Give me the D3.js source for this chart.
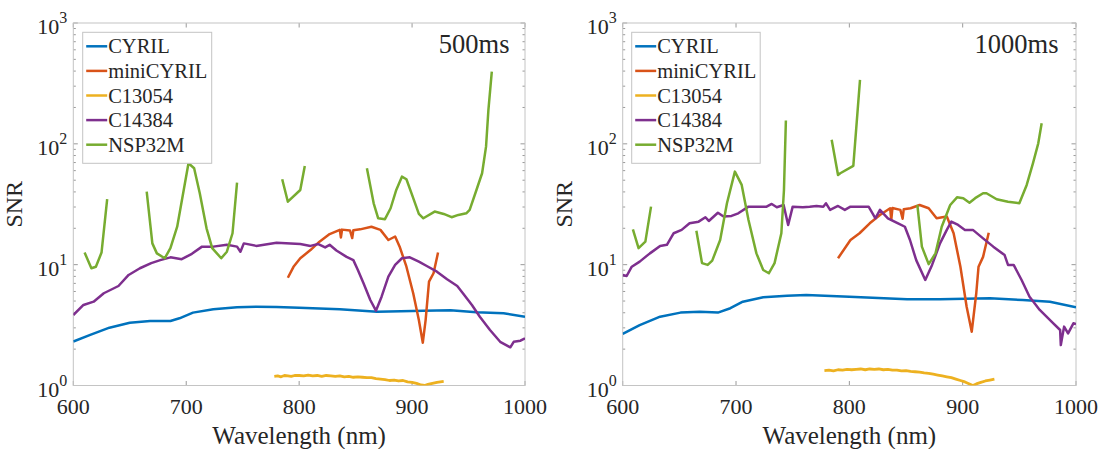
<!DOCTYPE html>
<html>
<head>
<meta charset="utf-8">
<script src="https://cdn.jsdelivr.net/npm/d3@7"></script>
<style>
  svg text { font-family: "Liberation Serif", "Times New Roman", Tinos !important; }
</style>
</head>
<body style="margin:0">
<svg id="chart" width="1102" height="449"></svg>
<script>
// ---------------- data ----------------
const seriesNames = ["CYRIL", "miniCYRIL", "C13054", "C14384", "NSP32M"];
const seriesColors = ["#0072BD", "#D95319", "#EDB120", "#7E2F8E", "#77AC30"];
const panelTitles = ["500ms", "1000ms"];
const xTicks = [600, 700, 800, 900, 1000];
const yTicks = [1, 10, 100, 1000];
const yTickExponents = ["0", "1", "2", "3"];
const xLabel = "Wavelength (nm)";
const yLabel = "SNR";

// 500 ms
const cyril500 = [[600,2.31],[615,2.62],[632,3.01],[650,3.31],[668,3.42],[686,3.42],[694,3.6],[706,4.01],[724,4.27],[745,4.44],[762,4.49],[780,4.47],[800,4.4],[836,4.27],[869,4.08],[890,4.12],[910,4.16],[934,4.2],[957,4.04],[981,3.96],[1000,3.71]];
const mini500 = [[790,7.8],[795,9.6],[801,11.3],[810,13.2],[818,15.5],[827,17.9],[836,19.4],[837,16.8],[838,19.5],[845,19.2],[847,16.6],[848,19.3],[854,19.6],[864,20.6],[872,19.4],[879,16],[885,17.1],[889,14.1],[895,9.62],[901,5.8],[906,3.48],[909.5,2.26],[912,3.48],[915,7.23],[919,8.49],[923,12.6]];
const c13054_500 = [[778,1.19],[781,1.2],[784,1.18],[787,1.21],[790,1.2],[793,1.19],[796,1.21],[800,1.21],[804,1.2],[808,1.22],[812,1.2],[816,1.21],[820,1.19],[824,1.21],[828,1.2],[832,1.19],[836,1.2],[840,1.18],[844,1.19],[848,1.17],[852,1.18],[856,1.17],[860,1.16],[864,1.16],[868,1.14],[872,1.13],[876,1.12],[880,1.1],[884,1.11],[888,1.09],[892,1.1],[896,1.07],[900,1.06],[904,1.04],[908,1.01],[911,1.0],[914,1.02],[918,1.04],[922,1.06],[925,1.07],[928,1.08]];
const c14384_500 = [[600,3.83],[609,4.64],[618,4.94],[627,5.8],[640,6.66],[649,8.22],[659,9.34],[669,10.3],[677,10.9],[686,11.5],[696,11.1],[705,12.3],[714,14.1],[724,14.1],[736,14.6],[745,14.1],[748,12.8],[751,15.0],[762,14.3],[780,15.2],[801,14.8],[810,14.3],[817,14.8],[823,13.9],[827,14.6],[833,13.1],[842,11.6],[848,10.9],[852,9.04],[857,7.02],[863,5.1],[868,4.16],[873,5.43],[879,7.96],[885,9.95],[891,11.3],[898,11.5],[906,10.6],[913,9.75],[922,8.75],[931,7.57],[940,6.66],[945,5.8],[953,4.64],[960,3.71],[969,2.88],[978,2.3],[987,2.07],[990,2.3],[996,2.35],[1000,2.46]];
const nsp500 = [[610,12.6],[616,9.34],[620,9.62],[625,12.6],[630,34.8],null,
  [665,40.2],[670,15],[674,12.4],[681,11.3],[686,13.7],[692,20.6],[702,69],[707,62.8],[712,39],[718,20],[723,13.7],[731,11.3],[736,12.8],[741,18.2],[745,47.7],null,
  [785,50.9],[790,33.2],[801,41.5],[805,65.6],null,
  [860,62.8],[866,32.2],[870,24.2],[876,23.8],[881,29.3],[886,41.5],[891,53.5],[895,50.9],[900,37.8],[906,26.3],[910,24.2],[920,27.5],[928,26.3],[935,24.7],[941,25.8],[948,26.6],[951,28.4],[957,41.5],[962,57.1],[965.5,94.8],[967.6,191],[970.6,396]];

// 1000 ms
const cyril1000 = [[600,2.67],[615,3.16],[633,3.71],[651,4.01],[668,4.08],[684,4.01],[695,4.36],[706,4.94],[724,5.37],[745,5.54],[762,5.61],[800,5.43],[851,5.17],[880,5.17],[924,5.27],[953,5.1],[977,4.94],[1000,4.45]];
const mini1000 = [[790,11.3],[801,16],[809,18.2],[818,22],[827,25.8],[836,29.3],[837,23.5],[838,29.4],[845,28.4],[847,24],[848,28.8],[854,29.3],[862,31.2],[870,29.3],[877,24.2],[886,25],[892,18.2],[898,9.62],[903.5,4.49],[908,2.79],[912,5.8],[914,9.62],[918,11.6],[923,18.4]];
const c13054_1000 = [[778,1.33],[782,1.34],[786,1.32],[790,1.35],[794,1.34],[798,1.36],[802,1.35],[806,1.36],[810,1.37],[814,1.35],[818,1.37],[822,1.36],[826,1.37],[830,1.35],[834,1.36],[838,1.34],[842,1.34],[846,1.32],[850,1.33],[854,1.31],[858,1.3],[862,1.29],[866,1.27],[870,1.26],[874,1.24],[878,1.22],[882,1.2],[886,1.18],[890,1.16],[894,1.13],[898,1.1],[902,1.07],[906,1.03],[909,1.0],[912,1.03],[916,1.06],[920,1.09],[924,1.11],[928,1.13]];
const c14384_1000 = [[600,8.22],[603.5,8.06],[608,9.62],[615,10.6],[624,12.4],[633,14.3],[639,14.6],[645,18.2],[652,19.4],[659,22],[667,22.7],[673,24.7],[676,23],[684,26.9],[689,25],[696,25.3],[702,26.6],[711,30.2],[727,30.2],[731.5,31.8],[736,29.9],[742,31.2],[746,21.3],[750,30.2],[759,29.9],[765,30.2],[771,30.6],[777,30.2],[779.4,32.2],[783,28.4],[790,30.6],[796,28.4],[801,30.2],[817,30.2],[823,24.2],[827,28.4],[834,24.2],[843,22],[849,20.6],[853.5,16],[859,10.9],[867,7.47],[873,9.95],[880,15],[886,19.4],[890,22.7],[896,21.3],[902,19.4],[909,19.4],[918,16.5],[927,14.1],[937,12],[940,9.95],[945,9.95],[952,7.47],[959,5.43],[968,4.22],[980,3.27],[986,2.88],[986.6,2.16],[989.5,3.07],[993,2.7],[997.7,3.27],[1000,3.23]];
const nsp1000 = [[609,19.6],[614,13.7],[620,15.5],[625,30.2],null,
  [665,19.1],[670,10.3],[675,9.95],[679,10.8],[686,16],[692,32.2],[699,58.9],[705,45.7],[711,23.4],[718,12.4],[724,9.04],[729,8.49],[734,10.3],[740,18.2],[742.3,41.5],[744,156],null,
  [784.4,108],[790,55.3],[792,57.1],[803.5,65.6],[809.4,338],null,
  [860,31.2],[864,14.1],[870,10.1],[876,12.4],[881.5,20.6],[889,31.2],[895,36.1],[900.5,35.5],[906,32.6],[911,35.5],[918,39],[921,39],[930,34.8],[940,33.2],[950,32.2],[956.5,45.7],[962,69],[966.7,101],[969.7,148]];

const panelData = [
  [cyril500, mini500, c13054_500, c14384_500, nsp500],
  [cyril1000, mini1000, c13054_1000, c14384_1000, nsp1000]
];

// ---------------- layout ----------------
const FONT = '"Liberation Serif", "Times New Roman", Tinos';
const svg = d3.select("#chart").style("font-family", FONT);
svg.append("rect").attr("width", 1102).attr("height", 449).attr("fill", "#fff");

const panels = [
  { left: 73.3, right: 525, legendX: 82.7, legendW: 129, titleX: 509.5, ylabX: 22 },
  { left: 622.7, right: 1076, legendX: 631.7, legendW: 128.5, titleX: 1058.5, ylabX: 572 }
];
const plotTop = 23, plotBottom = 385.5;
const axisColor = "#c4c4c4";
const tickColor = "#9a9a9a";
const textColor = "#262626";

function addText() {
  return svg.append("text").attr("font-size", 22).style("font-family", FONT).attr("fill", textColor);
}

panels.forEach((p, pi) => {
  const x = d3.scaleLinear().domain([600, 1000]).range([p.left, p.right]);
  const y = d3.scaleLog().domain([1, 1000]).range([plotBottom, plotTop]);
  const g = svg.append("g");

  const clipId = "clip" + pi;
  svg.append("clipPath").attr("id", clipId).append("rect")
    .attr("x", p.left).attr("y", plotTop).attr("width", p.right - p.left).attr("height", plotBottom - plotTop);

  // ticks
  const tl = 4.5, mtl = 2.5;
  const tg = g.append("g").attr("stroke", tickColor).attr("stroke-width", 1);
  xTicks.forEach(t => {
    tg.append("line").attr("x1", x(t)).attr("x2", x(t)).attr("y1", plotBottom).attr("y2", plotBottom - tl);
    tg.append("line").attr("x1", x(t)).attr("x2", x(t)).attr("y1", plotTop).attr("y2", plotTop + tl);
  });
  const minor = [];
  for (let d = 1; d < 1000; d *= 10) for (let k = 2; k <= 9; k++) minor.push(d * k);
  minor.forEach(t => {
    tg.append("line").attr("x1", p.left).attr("x2", p.left + mtl).attr("y1", y(t)).attr("y2", y(t));
    tg.append("line").attr("x1", p.right).attr("x2", p.right - mtl).attr("y1", y(t)).attr("y2", y(t));
  });
  yTicks.forEach(t => {
    tg.append("line").attr("x1", p.left).attr("x2", p.left + tl).attr("y1", y(t)).attr("y2", y(t));
    tg.append("line").attr("x1", p.right).attr("x2", p.right - tl).attr("y1", y(t)).attr("y2", y(t));
  });

  // box
  g.append("rect").attr("x", p.left).attr("y", plotTop).attr("width", p.right - p.left).attr("height", plotBottom - plotTop)
    .attr("fill", "none").attr("stroke", axisColor).attr("stroke-width", 1);

  // series
  const line = d3.line().defined(d => d !== null).x(d => x(d[0])).y(d => y(d[1]));
  const lg = g.append("g").attr("clip-path", `url(#${clipId})`);
  panelData[pi].forEach((data, si) => {
    lg.append("path").datum(data).attr("d", line)
      .attr("fill", "none").attr("stroke", seriesColors[si])
      .attr("stroke-width", si === 2 ? 2.8 : 2.5)
      .attr("stroke-linejoin", "round").attr("stroke-linecap", "butt");
  });

  // tick labels
  xTicks.forEach(t => {
    addText().attr("x", x(t)).attr("y", 414.3).attr("text-anchor", "middle")
      .attr("font-size", 22).text(t);
  });
  yTicks.forEach((t, i) => {
    const tx = addText().attr("x", p.left - 6).attr("y", y(t) + 11).attr("text-anchor", "end").attr("font-size", 22);
    tx.append("tspan").text("10");
    tx.append("tspan").attr("font-size", 16).attr("dy", -11).text(yTickExponents[i]);
  });

  // axis labels
  addText().attr("x", (p.left + p.right) / 2).attr("y", 444).attr("text-anchor", "middle")
    .attr("font-size", 25).text(xLabel);
  addText().attr("transform", `translate(${p.ylabX},${(plotTop + plotBottom) / 2}) rotate(-90)`)
    .attr("text-anchor", "middle").attr("font-size", 24).text(yLabel);

  // title annotation
  addText().attr("x", p.titleX).attr("y", 52.7).attr("text-anchor", "end")
    .attr("font-size", 26.5).text(panelTitles[pi]);

  // legend
  const ly = 32.3, rowH = 24.6, lh = 131;
  svg.append("rect").attr("x", p.legendX).attr("y", ly).attr("width", p.legendW).attr("height", lh)
    .attr("fill", "#fff").attr("stroke", axisColor).attr("stroke-width", 1);
  seriesNames.forEach((name, si) => {
    const cy = ly + 14 + si * rowH;
    svg.append("line").attr("x1", p.legendX + 3.5).attr("x2", p.legendX + 24.5).attr("y1", cy).attr("y2", cy)
      .attr("stroke", seriesColors[si]).attr("stroke-width", 2.5);
    addText().attr("x", p.legendX + 25.5).attr("y", cy + 7).attr("font-size", 20.5).text(name);
  });
});
</script>
</body>
</html>
